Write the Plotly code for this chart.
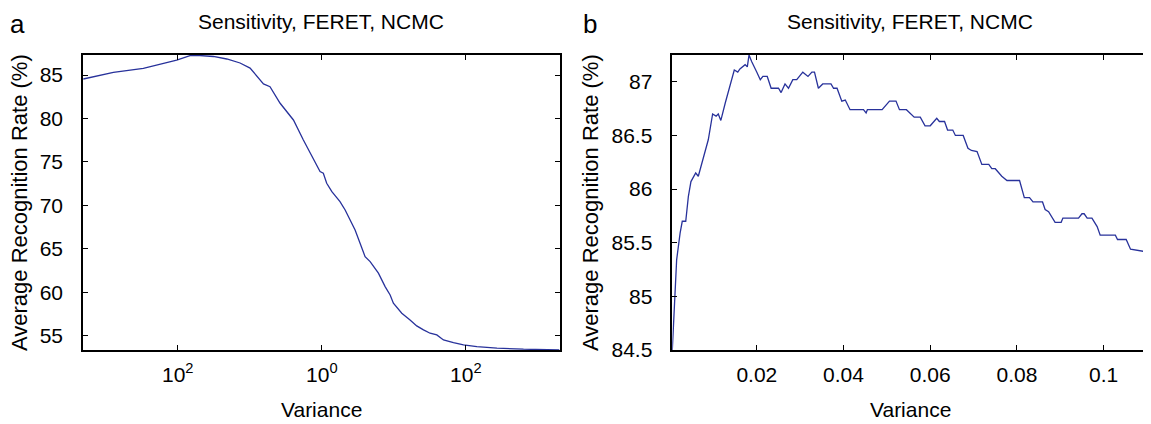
import plotly.graph_objects as go

# ---------------- data ----------------
# Panel a: log-scaled variance vs. average recognition rate
variance_a = [4.89e-4, 1.28e-3, 3.33e-3, 4.12e-3, 5.68e-3, 9.68e-3, 0.0148, 0.0204,
              0.0312, 0.048, 0.0733, 0.101, 0.155, 0.191, 0.264, 0.404, 0.555, 0.687,
              0.807, 0.946, 1.05, 1.17, 1.38, 1.79, 2.11, 2.47, 2.90, 3.40, 3.99, 4.69,
              6.11, 7.57, 8.89, 9.86, 12.9, 16.8, 20.8, 25.8, 31.9, 39.5, 48.9, 67.3,
              92.7, 142, 270, 631, 1995]
rate_a = [84.54, 85.31, 85.77, 85.95, 86.26, 86.72, 87.22, 87.24,
          87.13, 86.84, 86.38, 85.80, 83.97, 83.66, 81.75, 79.83, 77.53, 76.0,
          75.03, 73.89, 73.70, 72.55, 71.59, 70.44, 69.48, 68.33, 67.18, 65.66, 64.11, 63.54,
          62.21, 60.67, 59.71, 58.76, 57.61, 56.84, 56.15, 55.69, 55.31, 55.11, 54.54, 54.23,
          53.97, 53.77, 53.59, 53.47, 53.40]

# Panel b: linear variance vs. average recognition rate
variance_b = [0.0005, 0.0010, 0.0015, 0.0023, 0.0028, 0.0036, 0.0042, 0.0048, 0.0059, 0.0065,
              0.0073, 0.0077, 0.0082, 0.0088, 0.0098, 0.0106, 0.0111, 0.0117, 0.0127, 0.0137,
              0.0148, 0.0156, 0.0161, 0.0173, 0.0178, 0.0182, 0.0188, 0.0200, 0.0208, 0.0214,
              0.0224, 0.0233, 0.0250, 0.0256, 0.0265, 0.0273, 0.0283, 0.0292, 0.0306, 0.0318,
              0.0327, 0.0333, 0.0342, 0.0352, 0.0371, 0.0377, 0.0385, 0.0396, 0.0404, 0.0415,
              0.0446, 0.0452, 0.0455, 0.0489, 0.0495, 0.0506, 0.0521, 0.0529, 0.0545, 0.0552,
              0.0563, 0.0577, 0.0588, 0.0600, 0.0608, 0.0615, 0.0621, 0.0633, 0.0640, 0.0652,
              0.0658, 0.0669, 0.0676, 0.0687, 0.0695, 0.0708, 0.0719, 0.0735, 0.0742, 0.0750,
              0.0758, 0.0765, 0.0777, 0.0806, 0.0817, 0.0829, 0.0837, 0.0859, 0.0865, 0.0873,
              0.0888, 0.0902, 0.0906, 0.0942, 0.0950, 0.0955, 0.0962, 0.0973, 0.0985, 0.0992,
              0.1027, 0.1032, 0.1052, 0.1062, 0.1092, 0.1101]
rate_b = [84.50, 84.97, 85.34, 85.59, 85.70, 85.70, 85.93, 86.07, 86.15, 86.12,
          86.24, 86.30, 86.36, 86.46, 86.70, 86.68, 86.70, 86.64, 86.80, 86.95,
          87.11, 87.09, 87.12, 87.16, 87.14, 87.25, 87.19, 87.09, 87.02, 87.05,
          87.05, 86.94, 86.94, 86.90, 86.98, 86.94, 87.02, 87.02, 87.09, 87.05,
          87.09, 87.09, 86.94, 86.98, 86.98, 86.94, 86.94, 86.82, 86.83, 86.74,
          86.74, 86.71, 86.74, 86.74, 86.77, 86.82, 86.82, 86.74, 86.74, 86.71,
          86.67, 86.67, 86.59, 86.59, 86.63, 86.66, 86.63, 86.63, 86.55, 86.55,
          86.50, 86.50, 86.50, 86.38, 86.36, 86.35, 86.23, 86.23, 86.19, 86.19,
          86.15, 86.12, 86.08, 86.08, 85.92, 85.92, 85.88, 85.88, 85.81, 85.79,
          85.69, 85.69, 85.73, 85.73, 85.77, 85.77, 85.73, 85.73, 85.65, 85.57,
          85.57, 85.53, 85.53, 85.44, 85.42, 85.36]

ticks_a_vals = [0.01, 1, 100]
ticks_a_text = ["10<sup>2</sup>", "10<sup>0</sup>", "10<sup>2</sup>"]
yticks_a = [55, 60, 65, 70, 75, 80, 85]
ticks_b_vals = [0.02, 0.04, 0.06, 0.08, 0.1]
ticks_b_text = ["0.02", "0.04", "0.06", "0.08", "0.1"]
yticks_b = [84.5, 85, 85.5, 86, 86.5, 87]
yticks_b_text = ["84.5", "85", "85.5", "86", "86.5", "87"]

title_text = "Sensitivity, FERET, NCMC"
xlabel = "Variance"
ylabel = "Average Recognition Rate (%)"

# ---------------- figure ----------------
# the page body has an 8px default margin: work in screen pixels and shift
OFF = 8
W, H = 1151 - OFF, 424 - OFF
FONT = "Liberation Sans, Arial, sans-serif"
LINE = "rgb(40,50,155)"
FS = 21


def px_x(p):
    return (p - OFF) / W


def px_y(p):
    return 1 - (p - OFF) / H


fig = go.Figure()
fig.add_trace(go.Scatter(x=variance_a, y=rate_a, mode="lines",
                         line=dict(color=LINE, width=1.3), xaxis="x", yaxis="y",
                         showlegend=False, hoverinfo="skip"))
fig.add_trace(go.Scatter(x=variance_b, y=rate_b, mode="lines",
                         line=dict(color=LINE, width=1.3), xaxis="x2", yaxis="y2",
                         showlegend=False, hoverinfo="skip"))

L1, R1 = 83, 559.5
L2, R2 = 672.3, 1148.3
TOP, BOT = 55, 350

common_axis = dict(showline=True, linecolor="black", linewidth=1.5, mirror="ticks",
                   ticks="inside", ticklen=5, tickwidth=1, tickcolor="black",
                   showgrid=False, zeroline=False, automargin=False,
                   tickfont=dict(family=FONT, size=FS, color="black"))

ydom = [px_y(BOT), px_y(TOP)]
fig.update_layout(
    width=W, height=H,
    margin=dict(l=0, r=0, t=0, b=0, autoexpand=False),
    paper_bgcolor="white", plot_bgcolor="white",
    font=dict(family=FONT, color="black"),
    xaxis=dict(domain=[px_x(L1), px_x(R1)], type="log", range=[-3.315, 3.3],
               tickvals=ticks_a_vals, ticktext=ticks_a_text, anchor="y",
               ticklabelstandoff=5, **common_axis),
    yaxis=dict(domain=ydom, range=[53.38, 87.3],
               tickvals=yticks_a, anchor="x", ticklabelstandoff=14, **common_axis),
    xaxis2=dict(domain=[px_x(L2), px_x(R2)], range=[0.0005, 0.1103],
                tickvals=ticks_b_vals, ticktext=ticks_b_text, anchor="y2",
                ticklabelstandoff=5, **common_axis),
    yaxis2=dict(domain=ydom, range=[84.5, 87.25],
                tickvals=yticks_b, ticktext=yticks_b_text, anchor="x2",
                ticklabelstandoff=14, **common_axis),
)

ann = []
for (l, r, tag, ylx, tagx) in [(L1, R1, "a", 19, 8), (L2, R2, "b", 590, 581)]:
    cx = (l + r) / 2
    ann.append(dict(text=title_text, x=px_x(cx), y=px_y(22), xref="paper", yref="paper",
                    xanchor="center", yanchor="middle", showarrow=False,
                    font=dict(family=FONT, size=FS, color="black")))
    ann.append(dict(text=xlabel, x=px_x(cx), y=px_y(409), xref="paper", yref="paper",
                    xanchor="center", yanchor="middle", showarrow=False,
                    font=dict(family=FONT, size=FS, color="black")))
    ann.append(dict(text=ylabel, x=px_x(ylx), y=px_y(203), xref="paper", yref="paper",
                    xanchor="center", yanchor="middle", showarrow=False, textangle=-90,
                    font=dict(family=FONT, size=22, color="black")))
    ann.append(dict(text=tag, x=px_x(tagx), y=px_y(24),
                    xref="paper", yref="paper", xanchor="left", yanchor="middle",
                    showarrow=False, font=dict(family=FONT, size=26, color="black")))
fig.update_layout(annotations=ann)

fig.write_html("out.html")
